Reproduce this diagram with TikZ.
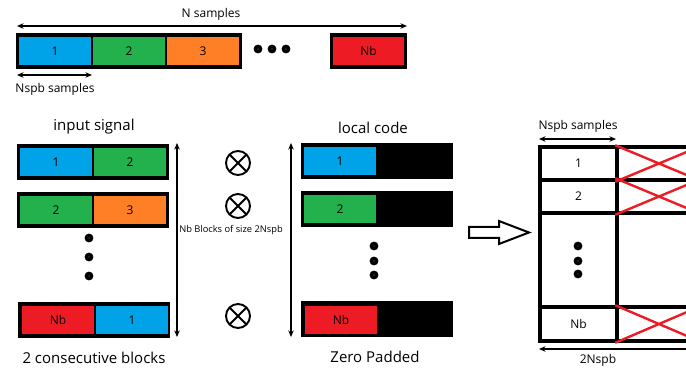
\documentclass[tikz,border=0pt]{standalone}
\usepackage{fontspec}
\setmainfont{Open Sans}
\usetikzlibrary{arrows.meta, positioning}
\definecolor{pblue}{HTML}{00A2E8}
\definecolor{pgreen}{HTML}{22B14C}
\definecolor{porange}{HTML}{FF7F27}
\definecolor{pred}{HTML}{ED1C24}
\begin{document}
\begin{tikzpicture}[x=1pt, y=-1pt, >={Stealth[length=6.5pt, width=5.5pt]},
    frame/.style={fill=black, inner sep=0, minimum height=36},
    blk/.style={inner sep=0, minimum width=72, minimum height=28, font=\fontsize{12}{12}\selectfont},
    dim/.style={<->, line width=1.2pt},
    lbl/.style={font=\fontsize{12}{12}\selectfont, inner sep=0},
    title/.style={font=\fontsize{15}{15}\selectfont, inner sep=0},
    dotsym/.style={circle, draw=black, fill=white, line width=3.6pt, minimum size=5, inner sep=0},
    mult/.style={circle, draw, line width=1.9pt, minimum size=24, inner sep=0,
      path picture={\draw[line width=1.9pt] (path picture bounding box.north west) -- (path picture bounding box.south east)
        (path picture bounding box.north east) -- (path picture bounding box.south west);}},
    cell/.style={draw, line width=3.5pt, inner sep=0, font=\fontsize{12}{12}\selectfont},
    cross/.style={pred, line width=2.4pt}]
  \useasboundingbox (0,0) rectangle (686,371);
  \clip (0,0) rectangle (686,371);
  % ---- top: the whole signal ----
  \node[frame, minimum width=226] (bar) at (129,51) {};
  \node[blk, fill=pblue]   (b1) at (55,51.5)  {1};
  \node[blk, fill=pgreen]  (b2) at (129,51.5) {2};
  \node[blk, fill=porange] (b3) at (203,51.5) {3};
  \foreach \x [count=\i] in {258,272,286}
    \node[dotsym] (hd\i) at (\x,49) {};
  \node[frame, minimum width=77] (barNb) at (368.5,51) {};
  \node[blk, fill=pred, minimum width=71] (bNb) at (368.5,51.5) {Nb};
  \coordinate (nL) at (17,26);
  \coordinate (nR) at (407,26);
  \draw[dim] (nL) -- (nR);
  \node[lbl] (nlbl) at (211,14) {N samples};
  \coordinate (sL) at (17,75);
  \coordinate (sR) at (92,75);
  \draw[dim] (sL) -- (sR);
  \node[lbl] (slbl) at (55,89) {Nspb samples};
  % ---- input signal: 2 consecutive blocks ----
  \node[title] (intitle) at (94,127) {input signal};
  \node[frame, minimum width=152] (in1) at (93,162) {};
  \node[blk, fill=pblue]   (in1a) at (56,162) {1};
  \node[blk, fill=pgreen]  (in1b) at (130,162) {2};
  \node[frame, minimum width=152] (in2) at (93,210.5) {};
  \node[blk, fill=pgreen]  (in2a) at (56,210.5) {2};
  \node[blk, fill=porange] (in2b) at (130,210.5) {3};
  \foreach \y [count=\i] in {238,257,276}
    \node[dotsym] (vd\i) at (89,\y) {};
  \node[frame, minimum width=152] (in3) at (94,320) {};
  \node[blk, fill=pred]   (in3a) at (58,320) {Nb};
  \node[blk, fill=pblue]  (in3b) at (132,320) {1};
  \node[title] (inbot) at (94,358) {2 consecutive blocks};
  % ---- products ----
  \node[mult] (m1) at (238,163) {};
  \node[mult] (m2) at (238,206) {};
  \node[mult] (m3) at (238,316) {};
  \coordinate (aT) at (177,143);
  \coordinate (aB) at (177,337);
  \draw[dim] (aT) -- (aB);
  \coordinate (cT) at (291,143);
  \coordinate (cB) at (291,337);
  \draw[dim] (cT) -- (cB);
  \node[font=\fontsize{9.3}{9.3}\selectfont, inner sep=0] (nbl) at (231,230) {Nb Blocks of size 2Nspb};
  % ---- local code, zero padded ----
  \node[title] (lctitle) at (373,128) {local code};
  \node[frame, minimum width=152] (lc1) at (377,161) {};
  \node[blk, fill=pblue]  (lc1a) at (340,161) {1};
  \node[frame, minimum width=152] (lc2) at (377,209.5) {};
  \node[blk, fill=pgreen] (lc2a) at (340,209.5) {2};
  \foreach \y [count=\i] in {246,261,275}
    \node[dotsym] (ld\i) at (374,\y) {};
  \node[frame, minimum width=152] (lc3) at (377,319.5) {};
  \node[blk, fill=pred]   (lc3a) at (341,320) {Nb};
  \node[title] (lcbot) at (375,357) {Zero Padded};
  % ---- result ----
  \draw[line width=2pt, line join=miter] (469,227) -- (499,227) -- (499,221) -- (529,232.5)
    -- (499,244) -- (499,238) -- (469,238) -- cycle;
  \node[cell, minimum width=77, minimum height=33] (t1) at (578.5,163.5) {1};
  \node[cell, minimum width=84, minimum height=33] (r1) at (659,163.5) {};
  \node[cell, minimum width=77, minimum height=33] (t2) at (578.5,196.5) {2};
  \node[cell, minimum width=84, minimum height=33] (r2) at (659,196.5) {};
  \node[cell, minimum width=77, minimum height=94] (t3) at (578.5,260) {};
  \node[cell, minimum width=84, minimum height=94] (r3) at (659,260) {};
  \node[cell, minimum width=77, minimum height=34] (t4) at (578.5,324) {Nb};
  \node[cell, minimum width=84, minimum height=34] (r4) at (659,324) {};
  \foreach \y [count=\i] in {246,261,274}
    \node[dotsym] (td\i) at (578,\y) {};
  \foreach \r in {r1,r2,r4}
    \draw[cross] (\r.north west) -- (\r.south east) (\r.south west) -- (\r.north east);
  \coordinate (tL) at (539,139);
  \coordinate (tR) at (616,139);
  \draw[dim] (tL) -- (tR);
  \node[lbl] (tlbl) at (578,126) {Nspb samples};
  \coordinate (wL) at (539,349);
  \coordinate (wR) at (705,349);
  \draw[dim] (wL) -- (wR);
  \node[lbl] (wlbl) at (598,360) {2Nspb};
\end{tikzpicture}
\end{document}
